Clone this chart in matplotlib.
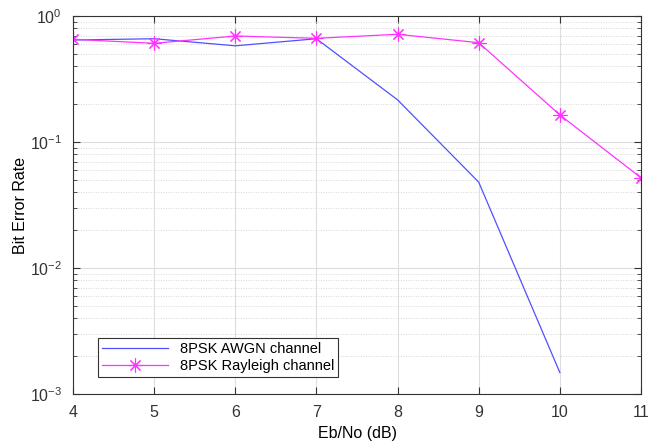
import matplotlib
matplotlib.use('Agg')
import matplotlib.pyplot as plt
from matplotlib.ticker import LogLocator, NullFormatter

plt.rcParams['font.family'] = ['Liberation Sans', 'DejaVu Sans']

# Data
ebno = [4, 5, 6, 7, 8, 9, 10, 11]
ber_awgn = [0.645, 0.66, 0.58, 0.66, 0.216, 0.048, 0.00148]
ber_rayleigh = [0.653, 0.607, 0.694, 0.665, 0.716, 0.614, 0.164, 0.052]

fig = plt.figure(figsize=(6.49, 4.44), dpi=100)
ax = fig.add_axes([73 / 649, 1 - 394 / 444, (641 - 73) / 649, (394 - 16) / 444])

ax.semilogy(ebno[:len(ber_awgn)], ber_awgn, color='#5050ff', lw=0.9, label='8PSK AWGN channel')
ax.semilogy(ebno, ber_rayleigh, color='#ff33ff', lw=0.9, marker=(8, 2, 0), ms=10,
            markeredgewidth=0.8, label='8PSK Rayleigh channel')

ax.set_xlim(4, 11)
ax.set_ylim(1e-3, 1)
ax.set_xticks(ebno)
ax.yaxis.set_major_locator(LogLocator(base=10, numticks=10))
ax.yaxis.set_minor_locator(LogLocator(base=10, subs=range(2, 10), numticks=20))
ax.yaxis.set_minor_formatter(NullFormatter())

ax.grid(True, which='major', color='#dddddd', lw=0.8, ls='-')
ax.grid(True, which='minor', axis='y', color='#cccccc', lw=0.6, ls=(0, (1, 2)))
ax.set_axisbelow(True)

ax.tick_params(which='both', direction='in', top=True, right=True, labelsize=11.5, colors='#333333')
ax.tick_params(which='major', length=5, pad=8)
ax.tick_params(which='minor', length=3)
for s in ax.spines.values():
    s.set_color('#333333')
    s.set_linewidth(0.8)

ax.set_xlabel('Eb/No (dB)', fontsize=11.5, labelpad=4)
ax.set_ylabel('Bit Error Rate', fontsize=11.5, labelpad=1)

leg = ax.legend(loc='lower left', bbox_to_anchor=(0.044, 0.045), fontsize=10.5,
                fancybox=False, edgecolor='#333333', framealpha=1, borderpad=0.3,
                labelspacing=0.15, handlelength=4.5, borderaxespad=0)
leg.get_frame().set_linewidth(0.8)

plt.savefig('out.png', dpi=100)
